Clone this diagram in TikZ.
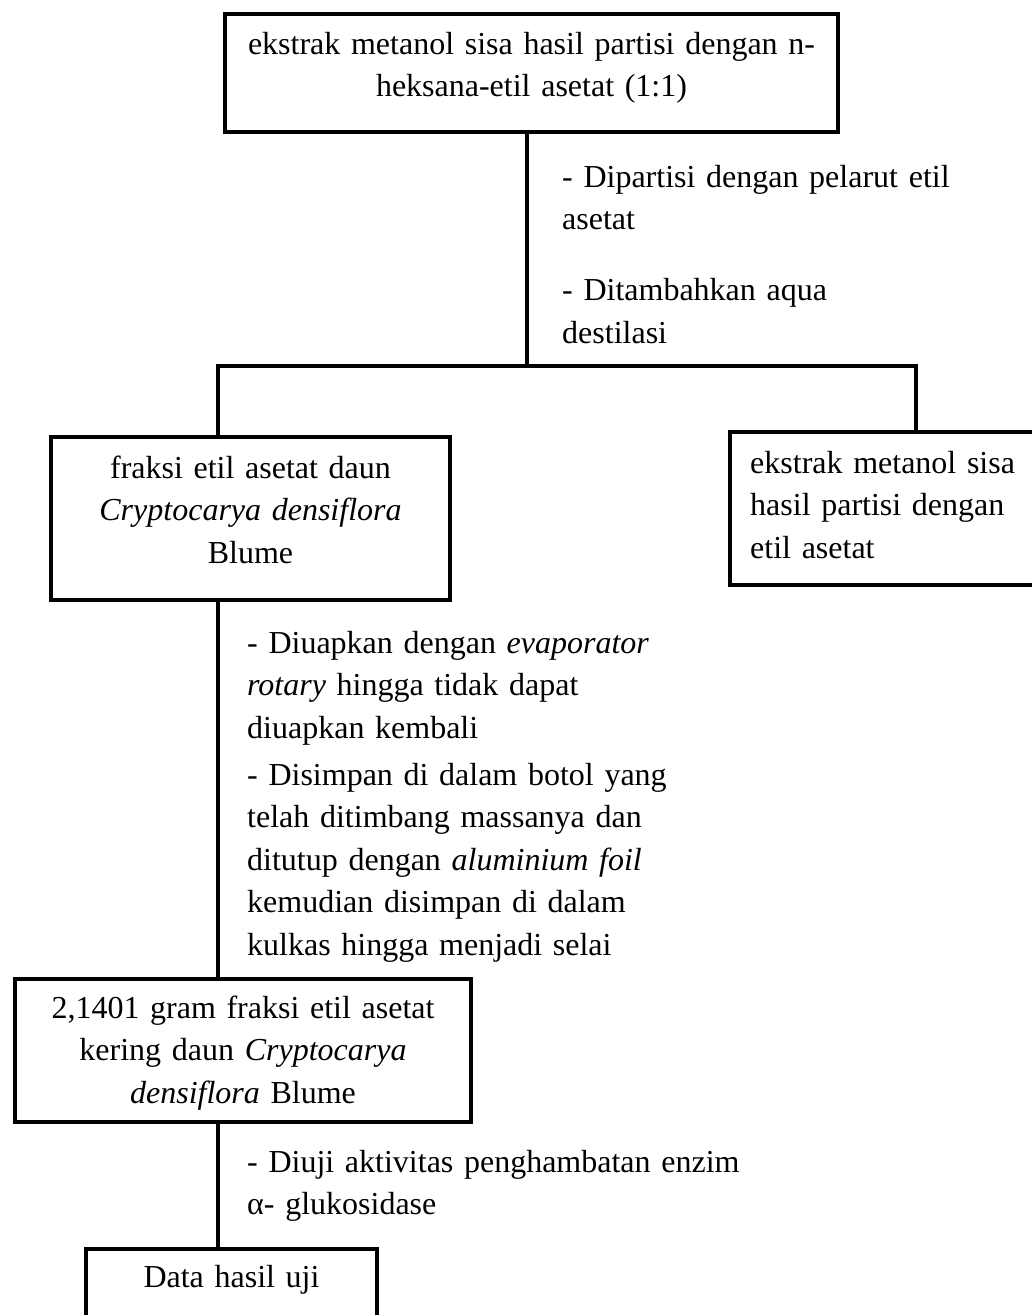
\documentclass[tikz,border=0pt]{standalone}
\usepackage{fontspec}
\setmainfont[Ligatures=CommonOff]{Liberation Serif}
\begin{document}
\begin{tikzpicture}[x=1pt,y=-1pt,
  font=\fontsize{32pt}{42.5pt}\selectfont,
  box/.style={draw,line width=4.5pt,inner sep=0pt,outer sep=0pt},
  conn/.style={line width=4pt,line join=miter},
  ctext/.style={anchor=base,align=center,inner sep=0pt,text width=#1},
  ltext/.style={anchor=base west,align=left,inner sep=0pt,text width=#1}]
\clip (0,0) rectangle (1032,1315);
\fill[white] (0,0) rectangle (1032,1315);

% boxes
\node[box,minimum width=613pt,minimum height=118pt] (b1) at (531.5,73) {};
\node[box,minimum width=399pt,minimum height=163pt] (b2) at (250.5,518.5) {};
\node[box,minimum width=315pt,minimum height=153pt] (b3) at (887.5,508.5) {};
\node[box,minimum width=456pt,minimum height=143pt] (b4) at (243,1050.5) {};
\node[box,minimum width=291pt,minimum height=96pt] (b5) at (231.5,1297) {};

% box texts
\node[ctext=613pt] (t1) at (531.5,54) {ekstrak metanol sisa hasil partisi dengan n-\\heksana-etil asetat (1:1)};
\node[ctext=399pt] (t2) at (250.5,478) {fraksi etil asetat daun\\\textit{Cryptocarya densiflora}\\Blume};
\node[ltext=280pt] (t3) at (750,473) {\makebox[262pt][s]{ekstrak metanol sisa}\\\makebox[262pt][s]{hasil partisi dengan}\\etil asetat};
\node[ctext=456pt] (t4) at (243,1018) {2,1401 gram fraksi etil asetat\\kering daun \textit{Cryptocarya}\\\textit{densiflora} Blume};
\node[ctext=291pt] (t5) at (231.5,1287) {Data hasil uji};

% connectors
\coordinate (jm) at (527,366);
\coordinate (jl) at (218,366);
\coordinate (jr) at (916,366);
\draw[conn] (b1.south -| jm) -- (jm);
\draw[conn] (jl |- b2.north) -- (jl) -- (jr) -- (jr |- b3.north);
\draw[conn] (b2.south -| jl) -- (b4.north -| jl);
\draw[conn] (b4.south -| jl) -- (b5.north -| jl);

% step labels
\node[ltext=420pt] (l1) at (562,187) {- Dipartisi dengan pelarut etil\\asetat\\[28.5pt]- Ditambahkan aqua\\destilasi};
\node[ltext=470pt] (l2) at (247,653) {- Diuapkan dengan \textit{evaporator}\\\textit{rotary} hingga tidak dapat\\diuapkan kembali\\[4.5pt]- Disimpan di dalam botol yang\\telah ditimbang massanya dan\\ditutup dengan \textit{aluminium foil}\\kemudian disimpan di dalam\\kulkas hingga menjadi selai};
\node[ltext=540pt] (l3) at (247,1172) {- Diuji aktivitas penghambatan enzim\\α- glukosidase};
\end{tikzpicture}
\end{document}
